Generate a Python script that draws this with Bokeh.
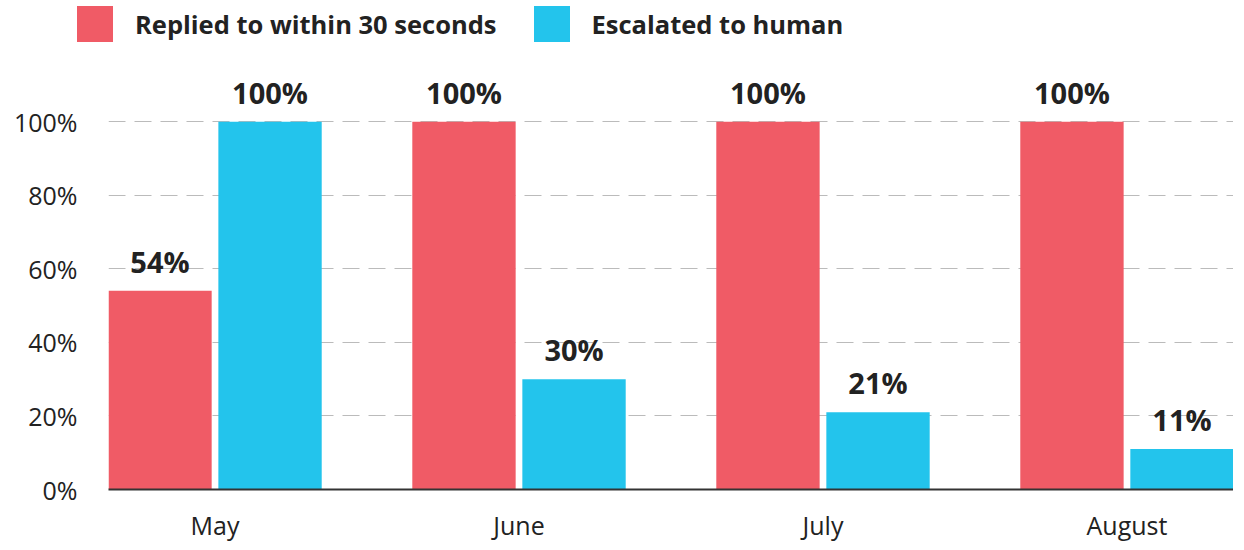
from bokeh.plotting import figure
from bokeh.layouts import column, row
from bokeh.models import ColumnDataSource, FactorRange, Range1d, FixedTicker, Legend, LegendItem
from bokeh.transform import dodge
from bokeh.core.properties import value
from bokeh.embed import file_html
from bokeh.resources import INLINE

months = ["May", "June", "July", "August"]
replied = [54, 100, 100, 100]
escalated = [100, 30, 21, 11]
series_names = ["Replied to within 30 seconds", "Escalated to human"]
y_ticks = [0, 20, 40, 60, 80, 100]
y_tick_labels = ["0%", "20%", "40%", "60%", "80%", "100%"]

RED = "#F05B66"
BLUE = "#23C4EC"
FONT = "Open Sans"
TXT = "#222222"
W = 1233

src = ColumnDataSource(dict(
    month=months,
    replied=replied,
    escalated=escalated,
    replied_lbl=[f"{v}%" for v in replied],
    escalated_lbl=[f"{v}%" for v in escalated],
))

xr = FactorRange(*months, range_padding=-0.0748, range_padding_units="percent")

# ---- legend strip (same bars, kept out of its view; only its legend shows) ----
leg = figure(width=W, height=50, x_range=xr, y_range=Range1d(1000, 1001),
             min_border=0, output_backend="svg", toolbar_location=None)
leg.axis.visible = False
leg.grid.visible = False
leg.outline_line_color = None
l1 = leg.vbar(x=dodge("month", -0.181, range=xr), top="replied", width=0.34,
              source=src, fill_color=RED, line_color=None)
l2 = leg.vbar(x=dodge("month", 0.181, range=xr), top="escalated", width=0.34,
              source=src, fill_color=BLUE, line_color=None)
legend = Legend(
    items=[LegendItem(label=series_names[0], renderers=[l1]),
           LegendItem(label=series_names[1], renderers=[l2])],
    orientation="horizontal",
    location=(72, 4),
    glyph_width=45, glyph_height=45,
    label_standoff=18, spacing=32,
    padding=0, margin=0,
    border_line_color=None, background_fill_alpha=0,
    label_text_font=FONT, label_text_font_style="bold",
    label_text_font_size="25.5px", label_text_color=TXT,
)
leg.add_layout(legend, "center")

# ---- main chart ----
p = figure(
    x_range=xr,
    y_range=Range1d(0, 115),
    frame_width=1125, frame_height=423,
    min_border_left=108, min_border_right=0, min_border_top=16, min_border_bottom=53,
    output_backend="svg", toolbar_location=None,
)
p.outline_line_color = None
p.background_fill_color = "white"

p.vbar(x=dodge("month", -0.181, range=xr), top="replied", width=0.34,
       source=src, fill_color=RED, line_color=None)
p.vbar(x=dodge("month", 0.181, range=xr), top="escalated", width=0.34,
       source=src, fill_color=BLUE, line_color=None)

for off, col in ((-0.181, "replied"), (0.181, "escalated")):
    p.text(x=dodge("month", off, range=xr), y=col, text=col + "_lbl", source=src,
           text_align="center", text_baseline="bottom", y_offset=-10,
           text_font=value(FONT), text_font_style="bold", text_font_size="29px",
           text_color=TXT)

p.xaxis.axis_line_color = "#333333"
p.xaxis.axis_line_width = 2
p.xaxis.major_tick_line_color = None
p.xaxis.minor_tick_line_color = None
p.xaxis.major_label_standoff = 12
p.xaxis.major_label_text_font = FONT
p.xaxis.major_label_text_font_size = "25px"
p.xaxis.major_label_text_color = TXT

p.yaxis.ticker = FixedTicker(ticks=y_ticks)
p.yaxis.major_label_overrides = dict(zip(y_ticks, y_tick_labels))
p.yaxis.axis_line_color = None
p.yaxis.major_tick_line_color = None
p.yaxis.minor_tick_line_color = None
p.yaxis.major_label_standoff = 25
p.yaxis.major_label_text_font = FONT
p.yaxis.major_label_text_font_size = "25px"
p.yaxis.major_label_text_color = TXT

p.xgrid.grid_line_color = None
p.ygrid.grid_line_color = "#BBBBBB"
p.ygrid.grid_line_dash = "17 9"
p.ygrid.grid_line_width = 1

layout = column(row(leg), p, spacing=0)
open("out.html", "w").write(file_html(layout, INLINE))
